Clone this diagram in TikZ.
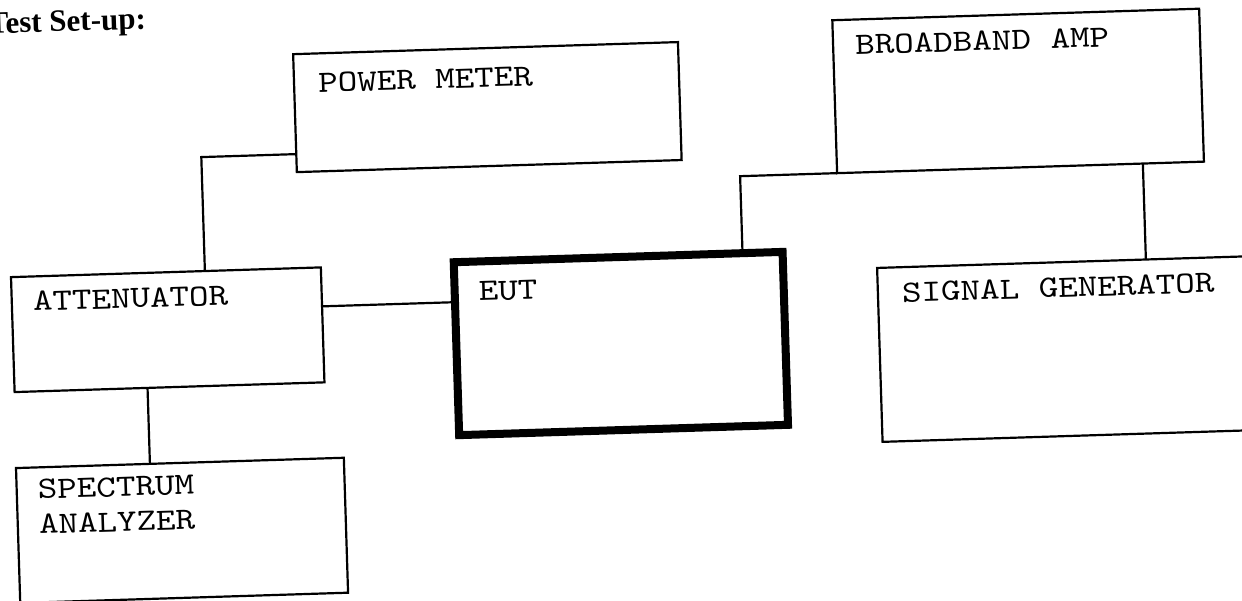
\documentclass[tikz,border=0pt]{standalone}
\usepackage{fontspec}
\newfontfamily\boxfont{lmmono10-regular}[Extension=.otf, FakeStretch=1.2]
\newfontfamily\titlefont{Liberation Serif}
\usepackage{tikz}

\begin{document}
\begin{tikzpicture}[x=1pt, y=-1pt,
    device/.style 2 args={rectangle, draw, line width=2.2pt, anchor=north west, inner sep=0pt, outer sep=0pt, minimum width=#1, minimum height=#2},
    devlabel/.style={anchor=base west, inner sep=0pt, align=left, font=\boxfont\fontsize{31}{35}\selectfont},
    wire/.style={line width=2.2pt},
]
    \useasboundingbox (0,0) rectangle (1242,601);
    \fill[white] (0,0) rectangle (1242,601);
    \clip (0,0) rectangle (1242,601);
  \begin{scope}[rotate around={1.8:(621,300)}, transform shape]
    \node[anchor=base west, inner sep=0pt, font=\titlefont\bfseries\fontsize{31}{34}\selectfont] (title) at (-3.5,14) {Test Set-up:};

    % boxes
    \node[device={385pt}{118pt}] (pm) at (301,44) {};
    \node[device={367pt}{153pt}] (amp) at (841,27) {};
    \node[device={310pt}{115pt}] (att) at (12,258) {};
    \node[device={328pt}{135pt}] (spec) at (11,449) {};
    \node[device={329pt}{173pt}, line width=8pt] (eut) at (455,257) {};
    \node[device={420pt}{174pt}] (sig) at (878,276) {};

    % labels
    \node[devlabel] (pmtext) at (325,83) {POWER METER};
    \node[devlabel] (amptext) at (863,62) {BROADBAND AMP};
    \node[devlabel] (atttext) at (33,292.5) {ATTENUATOR};
    \node[devlabel] (spectext) at (32,515.5) {SPECTRUM\\ANALYZER};
    \node[devlabel] (euttext) at (479,296.5) {EUT};
    \node[devlabel] (sigtext) at (902,311) {SIGNAL GENERATOR};

    % cables
    \coordinate (pmtap) at (206,144);
    \coordinate (atttap) at (0,297);
    \coordinate (spectap) at (145,0);
    \coordinate (euttap) at (744,0);
    \coordinate (sigtap) at (1147,0);
    \draw[wire] (pm.west |- pmtap) -| (att.north -| pmtap);
    \draw[wire] (att.east |- atttap) -- (eut.west |- atttap);
    \draw[wire] (att.south -| spectap) -- (spec.north -| spectap);
    \draw[wire] (eut.north -| euttap) |- (amp.south west);
    \draw[wire] (amp.south -| sigtap) -- (sig.north -| sigtap);
  \end{scope}
\end{tikzpicture}
\end{document}
